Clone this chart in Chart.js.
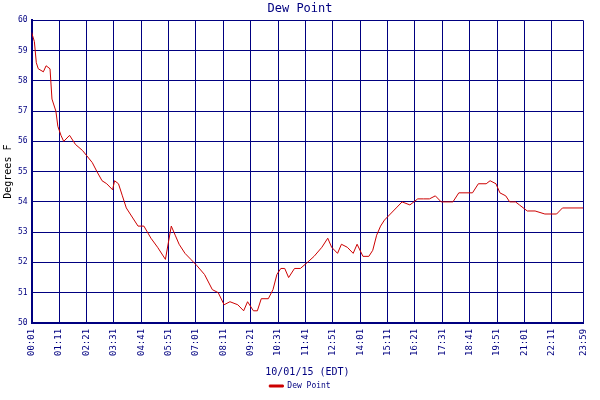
<!DOCTYPE html>
<html><head><meta charset="utf-8">
<script src="https://cdn.jsdelivr.net/npm/chart.js@4/dist/chart.umd.min.js"></script>
<style>body{margin:0;background:#fff}#w{width:600px;height:400px}</style>
</head><body><div id="w"><canvas id="c"></canvas></div>
<script>
// minutes since 00:01 and dew point readings
const minutes = [0,7,12,17,30,37,47,52,62,67,75,82,97,112,130,155,167,180,192,207,212,222,232,242,257,272,287,305,322,342,357,367,377,392,407,422,442,462,477,492,507,527,542,552,567,577,587,605,617,627,637,647,657,672,687,705,722,742,757,767,782,792,807,822,832,847,862,872,882,892,902,917,932,947,967,987,1002,1017,1032,1047,1077,1092,1127,1142,1162,1172,1187,1197,1212,1222,1237,1247,1267,1287,1312,1342,1357,1410];
const dewPoint = [59.6,59.3,58.6,58.4,58.3,58.5,58.4,57.4,57.0,56.5,56.2,56.0,56.2,55.9,55.7,55.3,55.0,54.7,54.6,54.4,54.7,54.6,54.2,53.8,53.5,53.2,53.2,52.8,52.5,52.1,53.2,52.9,52.6,52.3,52.1,51.9,51.6,51.1,51.0,50.6,50.7,50.6,50.4,50.7,50.4,50.4,50.8,50.8,51.1,51.6,51.8,51.8,51.5,51.8,51.8,52.0,52.2,52.5,52.8,52.5,52.3,52.6,52.5,52.3,52.6,52.2,52.2,52.4,52.9,53.2,53.4,53.6,53.8,54.0,53.9,54.1,54.1,54.1,54.2,54.0,54.0,54.3,54.3,54.6,54.6,54.7,54.6,54.3,54.2,54.0,54.0,53.9,53.7,53.7,53.6,53.6,53.8,53.8];
const tickValues = [0,70,140,210,280,350,420,490,560,630,700,770,840,910,980,1050,1120,1190,1260,1330,1410];
const tickLabels = ["00:01","01:11","02:21","03:31","04:41","05:51","07:01","08:11","09:21","10:31","11:41","12:51","14:01","15:11","16:21","17:31","18:41","19:51","21:01","22:11","23:59"];

const navy = "#000080";
const mono = "'DejaVu Sans Mono', monospace";
new Chart(document.getElementById("c"), {
  type: "line",
  data: {
    datasets: [{
      label: "Dew Point",
      data: minutes.map((m, i) => ({ x: m, y: dewPoint[i] })),
      borderColor: "#cc0000", backgroundColor: "#cc0000",
      borderWidth: 1, pointRadius: 0, tension: 0,
    }],
  },
  options: {
    responsive: true, maintainAspectRatio: false, animation: false,
    layout: { padding: { right: 2, left: 2, bottom: 0 } },
    plugins: {
      title: { display: true, text: "Dew Point", color: navy, font: { family: mono, size: 12, weight: "normal" }, padding: { top: 2, bottom: 4 } },
      legend: { position: "bottom", labels: { color: navy, font: { family: mono, size: 8 }, boxWidth: 14, boxHeight: 2, padding: 4 } },
    },
    scales: {
      x: {
        type: "linear", min: 0, max: 1410,
        afterBuildTicks: (ax) => { ax.ticks = tickValues.map(v => ({ value: v })); },
        ticks: { color: navy, font: { family: mono, size: 9 }, maxRotation: 90, minRotation: 90, autoSkip: false, padding: 6,
          callback: (v) => tickLabels[tickValues.indexOf(v)] },
        grid: { color: navy, drawTicks: false },
        border: { color: navy, width: 2 },
        title: { display: true, text: "10/01/15 (EDT)", color: navy, font: { family: mono, size: 10 }, padding: { top: 4, bottom: 0 } },
      },
      y: {
        min: 50, max: 60,
        ticks: { stepSize: 1, color: navy, font: { family: mono, size: 8 }, padding: 4 },
        grid: { color: navy, drawTicks: false },
        border: { color: navy, width: 2 },
        title: { display: true, text: "Degrees F", color: "#000", font: { family: mono, size: 10 }, padding: 0 },
      },
    },
  },
});
</script></body></html>
